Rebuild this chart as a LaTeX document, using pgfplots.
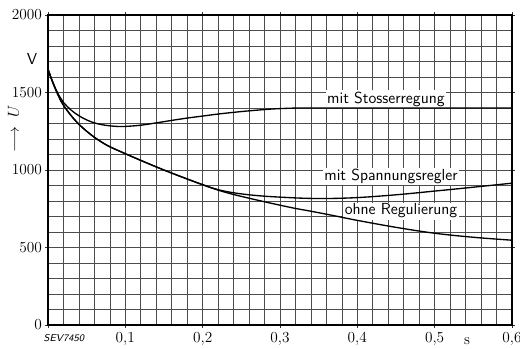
\documentclass[border=0pt]{standalone}
\usepackage{pgfplots}
\pgfplotsset{compat=1.18}
\begin{document}
\begin{tikzpicture}
\useasboundingbox (-36pt,-18pt) rectangle (354pt,243.75pt);
\begin{axis}[
  scale only axis, width=348pt, height=232.5pt,
  xmin=0, xmax=0.6, ymin=0, ymax=2000,
  xtick={0,0.1,0.2,0.3,0.4,0.5,0.6},
  xticklabels={,{0,1},{0,2},{0,3},{0,4},{0,5},{0,6}},
  ytick={0,500,1000,1500,2000},
  yticklabels={0,500,1000,1500,2000},
  minor x tick num=4, minor y tick num=4,
  grid=both,
  major grid style={black!70, line width=0.45pt},
  minor grid style={black!70, line width=0.45pt},
  tick align=outside, major tick length=2pt, minor tick length=0pt,
  tick style={black!80, line width=0.45pt},
  axis line style={black, line width=0.8pt},
  tick label style={font=\fontsize{11.5}{13}\selectfont},
  yticklabel style={xshift=1pt},
  clip=false,
]
\node[fill=white, inner sep=1pt, font=\sffamily\fontsize{12}{13}\selectfont] at (axis cs:0.437,1458) {mit Stosserregung};
\node[fill=white, inner sep=1pt, font=\sffamily\fontsize{12}{13}\selectfont] at (axis cs:0.4436,958) {mit Spannungsregler};
\node[fill=white, inner sep=1pt, font=\sffamily\fontsize{12}{13}\selectfont] at (axis cs:0.4565,735) {ohne Regulierung};
\node[font=\sffamily\fontsize{12}{13}\selectfont] at (axis cs:-0.0207,1717) {V};
\node[rotate=90, font=\fontsize{12}{13}\selectfont] at (axis cs:-0.0448,1267) {$\longrightarrow\; U$};
\node[font=\fontsize{11.5}{13}\selectfont] at (axis cs:0.542,-105) {s};
\node[font=\sffamily\itshape\fontsize{7.5}{8}\selectfont] at (axis cs:0.0207,-86) {SEV7450};
% mit Stosserregung
\addplot[black, line width=1pt, smooth, tension=0.6] coordinates {
 (0,1650) (0.005,1582) (0.01,1522) (0.015,1474) (0.02,1436) (0.03,1386) (0.04,1350) (0.05,1323)
 (0.06,1304) (0.07,1292) (0.08,1285) (0.09,1281) (0.1,1281) (0.12,1289)
 (0.14,1304) (0.16,1320) (0.18,1335) (0.2,1348) (0.22,1361) (0.25,1377)
 (0.28,1390) (0.3,1396) (0.33,1400) (0.4,1400) (0.5,1400) (0.6,1400)};
% mit Spannungsregler
\addplot[black, line width=1pt, smooth, tension=0.6] coordinates {
 (0,1650) (0.005,1580) (0.01,1518) (0.015,1463) (0.02,1418) (0.03,1350) (0.04,1295) (0.05,1250)
 (0.06,1211) (0.07,1178) (0.08,1150) (0.1,1105) (0.12,1062) (0.14,1020)
 (0.16,980) (0.18,942) (0.2,905) (0.22,873) (0.24,853) (0.26,840) (0.28,831)
 (0.3,825) (0.33,818) (0.36,816) (0.4,822) (0.45,840) (0.5,864)
 (0.55,889) (0.6,915)};
% ohne Regulierung
\addplot[black, line width=1pt, smooth, tension=0.6] coordinates {
 (0,1650) (0.005,1580) (0.01,1518) (0.015,1463) (0.02,1418) (0.03,1350) (0.04,1295) (0.05,1250)
 (0.06,1211) (0.07,1178) (0.08,1150) (0.1,1105) (0.12,1062) (0.14,1020)
 (0.16,980) (0.18,942) (0.2,905) (0.22,870) (0.24,842) (0.26,818) (0.28,795)
 (0.3,773) (0.32,752) (0.34,734) (0.37,705) (0.4,675) (0.45,630)
 (0.5,592) (0.55,566) (0.6,547)};
\end{axis}
\end{tikzpicture}
\end{document}
